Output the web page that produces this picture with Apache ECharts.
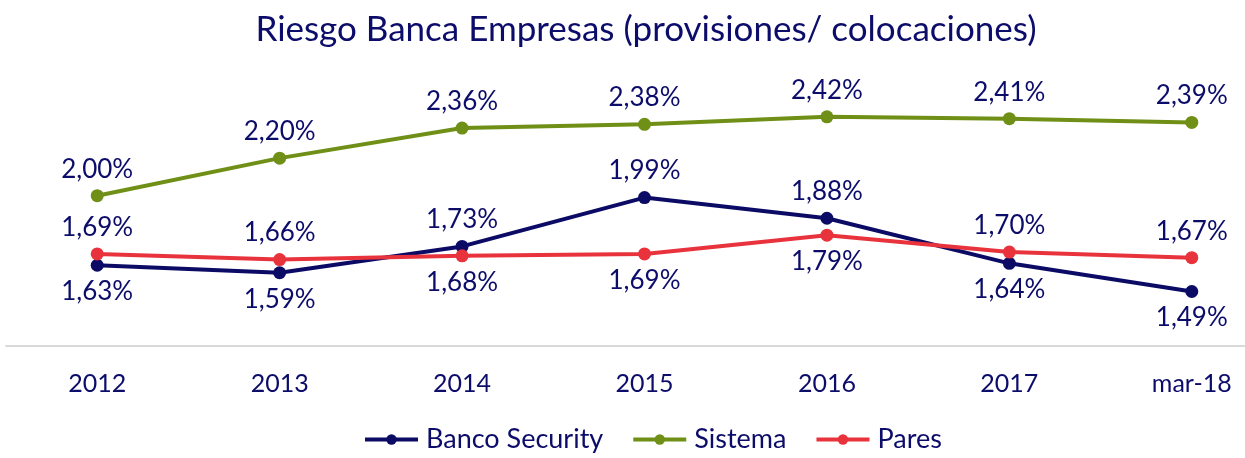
<!DOCTYPE html>
<html>
<head>
<meta charset="utf-8">
<script src="https://cdn.jsdelivr.net/npm/echarts@6/dist/echarts.min.js"></script>
<style>
  html, body { margin: 0; padding: 0; background: #fff; }
  #chart { width: 1245px; height: 458px; }
</style>
</head>
<body>
<div id="chart"></div>
<script>
const categories = ['2012', '2013', '2014', '2015', '2016', '2017', 'mar-18']
const bancoSecurity = [1.63, 1.59, 1.73, 1.99, 1.88, 1.64, 1.49]
const sistema = [2.00, 2.20, 2.36, 2.38, 2.42, 2.41, 2.39]
const pares = [1.69, 1.66, 1.68, 1.69, 1.79, 1.70, 1.67]

// label placement per point (above / below the marker)
const securityPos = ['bottom', 'bottom', 'top', 'top', 'top', 'bottom', 'bottom']
const paresPos = ['top', 'top', 'bottom', 'bottom', 'bottom', 'top', 'top']

const textColor = '#0c0c6a'
const font = 'Lato, "Open Sans", sans-serif'

const fmt = (p) => p.value.toFixed(2).replace('.', ',') + '%'

function withPos(values, pos) {
  return values.map((v, i) => ({ value: v, label: { position: pos[i] } }))
}

function lineSeries(name, color, data) {
  return {
    name,
    type: 'line',
    data,
    symbol: 'circle',
    symbolSize: 13,
    lineStyle: { color, width: 4 },
    itemStyle: { color },
    label: {
      show: true,
      position: 'top',
      distance: 7,
      formatter: fmt,
      color: textColor,
      fontSize: 26,
      fontFamily: font,
    },
    z: 3,
  }
}

const chart = echarts.init(document.getElementById('chart'))
chart.setOption({
  animation: false,
  title: {
    text: 'Riesgo Banca Empresas (provisiones/ colocaciones)',
    left: 641,
    textAlign: 'center',
    top: 7,
    textStyle: { color: textColor, fontSize: 35, fontWeight: 'normal', fontFamily: font },
  },
  legend: {
    data: ['Banco Security', 'Sistema', 'Pares'],
    bottom: 0,
    left: 358,
    itemWidth: 53,
    itemHeight: 13,
    itemGap: 28,
    lineStyle: { width: 4 },
    textStyle: { color: textColor, fontSize: 27, fontFamily: font, padding: [0, 0, 0, 3] },
  },
  grid: { left: 6, width: 1277, top: 83, bottom: 112, outerBoundsMode: 'none' },
  xAxis: {
    type: 'category',
    data: categories,
    axisLine: { lineStyle: { color: '#d9d9d9', width: 2 } },
    axisTick: { show: false },
    axisLabel: { color: textColor, fontSize: 25, fontFamily: font, margin: 25 },
  },
  yAxis: {
    type: 'value',
    min: 1.2,
    max: 2.6,
    show: false,
    splitLine: { show: false },
  },
  series: [
    lineSeries('Banco Security', '#0b0b66', withPos(bancoSecurity, securityPos)),
    lineSeries('Sistema', '#6f8f16', sistema),
    lineSeries('Pares', '#e8333d', withPos(pares, paresPos)),
  ],
})
</script>
</body>
</html>
